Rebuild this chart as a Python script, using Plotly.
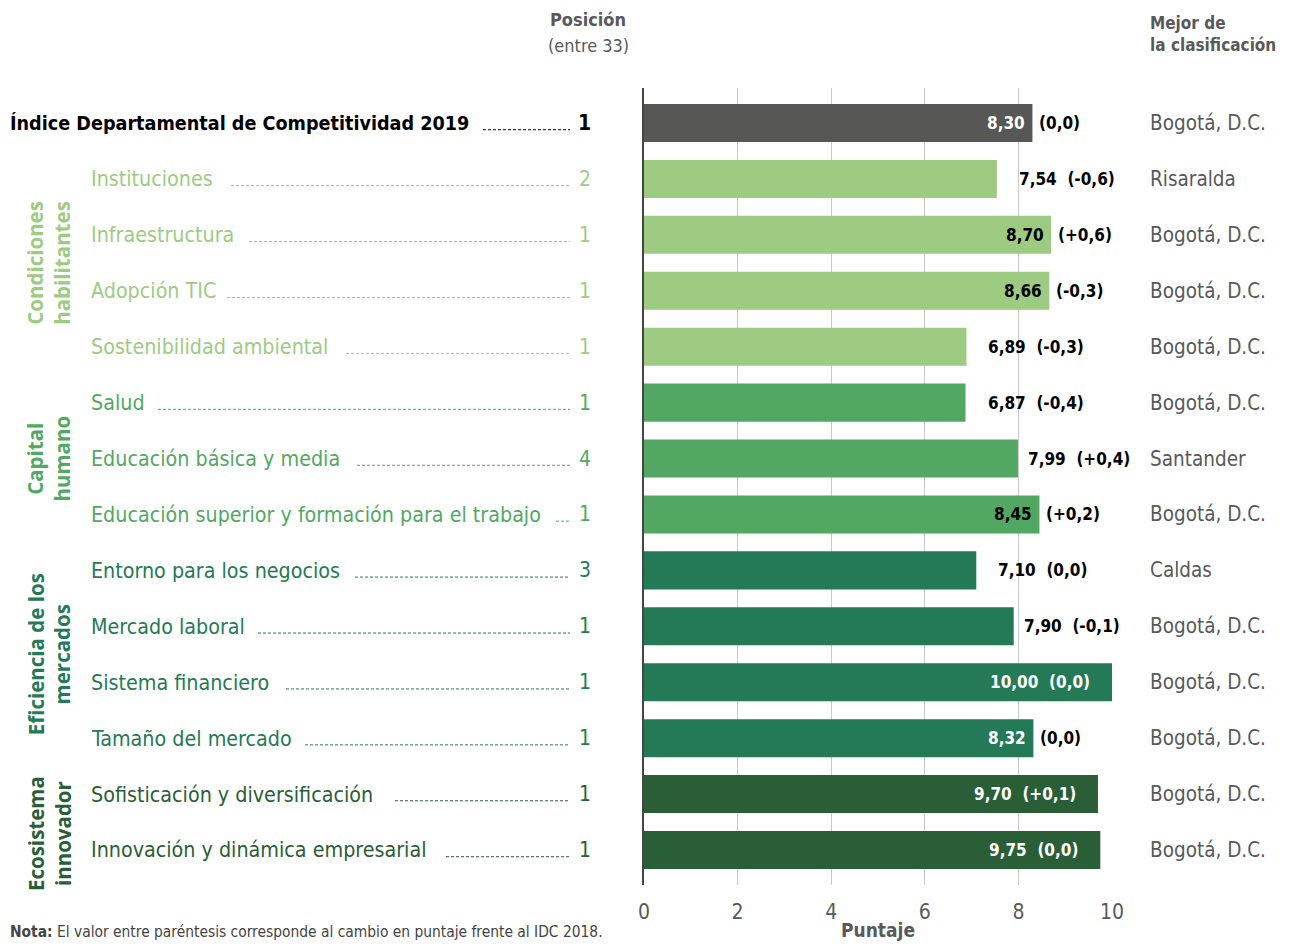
import plotly.graph_objects as go

# ---------------- data ----------------
labels = ["Índice Departamental de Competitividad 2019", "Instituciones", "Infraestructura",
          "Adopción TIC", "Sostenibilidad ambiental", "Salud", "Educación básica y media",
          "Educación superior y formación para el trabajo", "Entorno para los negocios",
          "Mercado laboral", "Sistema financiero", "Tamaño del mercado",
          "Sofisticación y diversificación", "Innovación y dinámica empresarial"]
groups = ["IDC", "CH", "CH", "CH", "CH", "CAP", "CAP", "CAP", "EM", "EM", "EM", "EM", "EI", "EI"]
scores = [8.30, 7.54, 8.70, 8.66, 6.89, 6.87, 7.99, 8.45, 7.10, 7.90, 10.00, 8.32, 9.70, 9.75]
score_text = ["8,30", "7,54", "8,70", "8,66", "6,89", "6,87", "7,99", "8,45", "7,10", "7,90",
              "10,00", "8,32", "9,70", "9,75"]
changes = ["(0,0)", "(-0,6)", "(+0,6)", "(-0,3)", "(-0,3)", "(-0,4)", "(+0,4)", "(+0,2)",
           "(0,0)", "(-0,1)", "(0,0)", "(0,0)", "(+0,1)", "(0,0)"]
positions = [1, 2, 1, 1, 1, 1, 4, 1, 3, 1, 1, 1, 1, 1]
best = ["Bogotá, D.C.", "Risaralda", "Bogotá, D.C.", "Bogotá, D.C.", "Bogotá, D.C.",
        "Bogotá, D.C.", "Santander", "Bogotá, D.C.", "Caldas", "Bogotá, D.C.",
        "Bogotá, D.C.", "Bogotá, D.C.", "Bogotá, D.C.", "Bogotá, D.C."]
group_names = {"CH": "Condiciones<br>habilitantes", "CAP": "Capital<br>humano",
               "EM": "Eficiencia de los<br>mercados", "EI": "Ecosistema<br>innovador"}
x_ticks = [0, 2, 4, 6, 8, 10]

# ---------------- styles ----------------
colors = {"IDC": "#575756", "CH": "#9dcb82", "CAP": "#52a862", "EM": "#247a57", "EI": "#2a5e37"}
label_colors = {"IDC": "#000000", "CH": "#9dcb82", "CAP": "#52a862", "EM": "#247a57", "EI": "#2a5e37"}
dark_bar = {"IDC": True, "CH": False, "CAP": False, "EM": True, "EI": True}
label_mode = ["split", "out", "split", "split", "out", "out", "out", "split", "out", "out",
              "in", "split", "in", "in"]
FONT = "Liberation Sans Narrow, DejaVu Sans Condensed, Roboto, sans-serif"
GROUPFONT = "Open Sans, DejaVu Sans, sans-serif"
GRAY = "#58595b"

O = 8                      # page body margin
W, H = 1298 - 2 * O, 949 - 2 * O
PL, PR, PT, PB = 644 - O, 1112 - O, 88 - O, 885 - O   # plot area (figure pixels)
n = len(labels)
pad = 0.626


def pxx(px):            # reference-screen x pixel -> paper
    return (px - O - PL) / (PR - PL)


def pxy(py):            # reference-screen y pixel -> paper
    return (PB - (py - O)) / (PB - PT)


fig = go.Figure()
fig.add_trace(go.Bar(
    x=scores, y=list(range(n)), orientation="h",
    marker=dict(color=[colors[g] for g in groups], line=dict(width=0)),
    width=0.68, hoverinfo="skip", showlegend=False))

ann = []
shapes = []

# value labels
for i in range(n):
    g = groups[i]
    inside_col = "#ffffff" if dark_bar[g] else "#000000"
    f = dict(family=FONT, size=17, color=inside_col)
    fo = dict(family=FONT, size=17, color="#000000")
    m = label_mode[i]
    if m == "split":
        ann.append(dict(x=scores[i], y=i, xref="x", yref="y", text="<b>%s</b>" % score_text[i],
                        xanchor="right", xshift=-5, showarrow=False, font=f))
        ann.append(dict(x=scores[i], y=i, xref="x", yref="y", text="<b>%s</b>" % changes[i],
                        xanchor="left", xshift=5, showarrow=False, font=fo))
    elif m == "out":
        gap = 20 if scores[i] < 7.6 else 8
        ann.append(dict(x=scores[i], y=i, xref="x", yref="y",
                        text="<b>%s&nbsp;&nbsp;%s</b>" % (score_text[i], changes[i]),
                        xanchor="left", xshift=gap, showarrow=False, font=fo))
    else:
        ann.append(dict(x=scores[i], y=i, xref="x", yref="y",
                        text="<b>%s&nbsp;&nbsp;%s</b>" % (score_text[i], changes[i]),
                        xanchor="right", xshift=-20, showarrow=False, font=f))

# left labels, positions, best
label_end_px = [468, 216, 234, 212, 331, 143, 342, 541, 340, 243, 271, 290, 380, 431]
for i in range(n):
    g = groups[i]
    c = label_colors[g]
    if g == "IDC":
        ann.append(dict(x=pxx(8), y=i, xref="paper", yref="y", text="<b>%s</b>" % labels[i],
                        xanchor="left", showarrow=False, font=dict(family=FONT, size=19.6, color=c)))
        ann.append(dict(x=pxx(593), y=i, xref="paper", yref="y", text="<b>%d</b>" % positions[i],
                        xanchor="right", showarrow=False, font=dict(family=FONT, size=21, color=c)))
    else:
        ann.append(dict(x=pxx(89), y=i, xref="paper", yref="y", text=labels[i],
                        xanchor="left", showarrow=False, font=dict(family=FONT, size=21.3, color=c)))
        ann.append(dict(x=pxx(593), y=i, xref="paper", yref="y", text="%d" % positions[i],
                        xanchor="right", showarrow=False, font=dict(family=FONT, size=21, color=c)))
    shapes.append(dict(type="line", xref="paper", yref="y", x0=pxx(label_end_px[i] + 15),
                       x1=pxx(570), y0=i + 0.12, y1=i + 0.12,
                       line=dict(color=c, width=1, dash="3px,2px")))
    ann.append(dict(x=pxx(1148), y=i, xref="paper", yref="y", text=best[i], xanchor="left",
                    showarrow=False, font=dict(family=FONT, size=20.5, color=GRAY)))

# group labels
for g, name in group_names.items():
    idx = [i for i in range(n) if groups[i] == g]
    yc = sum(idx) / len(idx)
    ann.append(dict(x=pxx(49), y=yc, xref="paper", yref="y", text="<b>%s</b>" % name,
                    textangle=-90, showarrow=False, xanchor="center", yanchor="middle",
                    yshift=-12 if g == "EI" else 0,
                    font=dict(family=GROUPFONT, size=20.5, color=colors[g])))

# headers
ann.append(dict(x=pxx(588), y=pxy(20), xref="paper", yref="paper", text="<b>Posición</b>",
                showarrow=False, xanchor="center", yanchor="middle",
                font=dict(family=FONT, size=18, color=GRAY)))
ann.append(dict(x=pxx(588), y=pxy(46), xref="paper", yref="paper", text="(entre 33)",
                showarrow=False, xanchor="center", yanchor="middle",
                font=dict(family=FONT, size=18, color=GRAY)))
ann.append(dict(x=pxx(1148), y=pxy(34), xref="paper", yref="paper",
                text="<b>Mejor de<br>la clasificación</b>", align="left",
                showarrow=False, xanchor="left", yanchor="middle",
                font=dict(family=FONT, size=17, color=GRAY)))
ann.append(dict(x=pxx(8), y=pxy(932), xref="paper", yref="paper",
                text="<b>Nota:</b> El valor entre paréntesis corresponde al cambio en puntaje frente al IDC 2018.",
                showarrow=False, xanchor="left", yanchor="middle",
                font=dict(family=FONT, size=15.4, color="#444444")))

fig.update_layout(
    width=W, height=H,
    margin=dict(l=PL, r=W - PR, t=PT, b=H - PB, pad=0, autoexpand=False),
    plot_bgcolor="white", paper_bgcolor="white",
    annotations=ann, shapes=shapes,
    xaxis=dict(range=[0, 10], tickvals=x_ticks, showgrid=True, gridcolor="#c8c8c8", gridwidth=1,
               zeroline=False, showline=False, ticks="", ticklabelstandoff=12, automargin=False,
               tickfont=dict(family=FONT, size=21, color=GRAY),
               title=dict(text="<b>Puntaje</b>", standoff=8,
                          font=dict(family=FONT, size=19, color=GRAY))),
    yaxis=dict(range=[n - 1 + pad, -pad], showticklabels=False, showgrid=False, automargin=False,
               zeroline=False, showline=True, linecolor="#444444", linewidth=2),
)

fig.write_html("out.html")
